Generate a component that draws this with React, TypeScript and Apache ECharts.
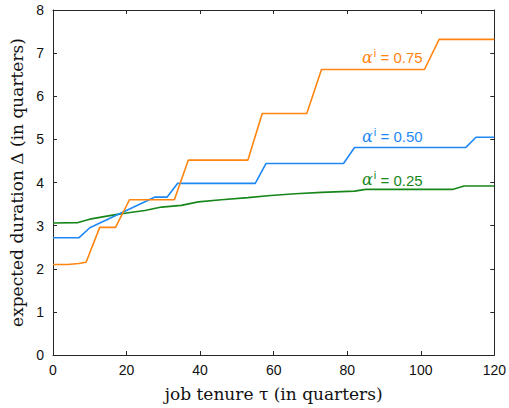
import React, { useEffect, useRef } from "react";
import * as echarts from "echarts";

const xTicks = [0, 20, 40, 60, 80, 100, 120];
const yTicks = [0, 1, 2, 3, 4, 5, 6, 7, 8];

const tauHigh = [0, 4, 7, 9, 12.7, 17, 20.8, 33, 36.8, 53, 56.9, 69, 73, 101, 105, 120];
const durHigh = [2.1, 2.1, 2.12, 2.15, 2.96, 2.96, 3.6, 3.6, 4.52, 4.52, 5.6, 5.6, 6.62, 6.62, 7.32, 7.32];

const tauMid = [0, 7.1, 10, 27.6, 31, 33.9, 55, 57.9, 79, 82, 112.2, 115, 120];
const durMid = [2.72, 2.72, 2.95, 3.66, 3.66, 3.98, 3.98, 4.44, 4.44, 4.81, 4.81, 5.05, 5.05];

const tauLow = [0, 6.8, 10, 16.6, 20.5, 25, 29.5, 34.9, 39.5, 45.8, 53, 59.2, 65.9, 73, 82, 85, 108.6, 111.8, 120];
const durLow = [3.06, 3.07, 3.15, 3.25, 3.3, 3.35, 3.43, 3.47, 3.55, 3.6, 3.65, 3.7, 3.74, 3.77, 3.8, 3.84, 3.84, 3.92, 3.92];

const labelHigh = "0.75";
const labelMid = "0.50";
const labelLow = "0.25";
const labelAt = [[100.5, 6.93], [100.5, 5.09], [100.5, 4.09]];

const COLORS = ["#ff8410", "#1e88f5", "#17871b"];
const AXIS = "#262626";

function pairs(xs: number[], ys: number[]) {
  return xs.map((x, i) => [x, ys[i]]);
}

function makeSeries(name: string, xs: number[], ys: number[], color: string, lab: string, at: number[]) {
  return {
    name,
    type: "line",
    xAxisIndex: 0,
    yAxisIndex: 0,
    data: pairs(xs, ys),
    showSymbol: false,
    symbol: "none",
    lineStyle: { color, width: 1.6 },
    itemStyle: { color },
    markPoint: {
      symbol: "circle",
      symbolSize: 0,
      data: [{ coord: at }],
      label: {
        show: true,
        position: "left",
        distance: 0,
        formatter: "{a|α}{s|i}{t| = " + lab + "}",
        rich: {
          a: { fontFamily: "DejaVu Serif", fontStyle: "italic", fontSize: 16, color, verticalAlign: "bottom", lineHeight: 18 },
          s: { fontFamily: "Liberation Sans", fontSize: 11, color, verticalAlign: "top", lineHeight: 18, padding: [0, 0, 0, 1] },
          t: { fontFamily: "Liberation Sans", fontSize: 15, color, verticalAlign: "bottom", lineHeight: 18 },
        },
      },
    },
  };
}

export default function App() {
  const ref = useRef<HTMLDivElement>(null);
  useEffect(() => {
    if (!ref.current) return;
    const chart = echarts.init(ref.current, null, { renderer: "svg" });
    const tickLabel = { fontFamily: "Liberation Sans", fontSize: 14, color: "#111" };
    const line = { show: true, onZero: false, lineStyle: { color: AXIS, width: 1 } };
    const tick = { show: true, inside: true, length: 4, lineStyle: { color: AXIS } };
    const nameStyle = { fontFamily: "DejaVu Serif", fontSize: 17, color: "#111" };
    chart.setOption({
      animation: false,
      backgroundColor: "#ffffff",
      grid: { left: 53, right: 12, top: 10, bottom: 53, containLabel: false },
      xAxis: [
        {
          type: "value",
          min: 0,
          max: 120,
          interval: 20,
          name: "job tenure τ (in quarters)",
          nameLocation: "middle",
          nameGap: 30,
          nameTextStyle: nameStyle,
          axisLine: line,
          axisTick: tick,
          axisLabel: { ...tickLabel, margin: 8, formatter: (v: number) => (xTicks.includes(v) ? String(v) : "") },
          splitLine: { show: false },
        },
        {
          type: "value",
          position: "top",
          min: 0,
          max: 120,
          interval: 20,
          axisLine: line,
          axisTick: tick,
          axisLabel: { show: false },
          splitLine: { show: false },
        },
      ],
      yAxis: [
        {
          type: "value",
          min: 0,
          max: 8,
          interval: 1,
          name: "expected duration Δ (in quarters)",
          nameLocation: "middle",
          nameGap: 20,
          nameTextStyle: nameStyle,
          axisLine: line,
          axisTick: tick,
          axisLabel: { ...tickLabel, margin: 9, formatter: (v: number) => (yTicks.includes(v) ? String(v) : "") },
          splitLine: { show: false },
        },
        {
          type: "value",
          position: "right",
          min: 0,
          max: 8,
          interval: 1,
          axisLine: line,
          axisTick: tick,
          axisLabel: { show: false },
          splitLine: { show: false },
        },
      ],
      series: [
        makeSeries("α=0.25", tauLow, durLow, COLORS[2], labelLow, labelAt[2]),
        makeSeries("α=0.50", tauMid, durMid, COLORS[1], labelMid, labelAt[1]),
        makeSeries("α=0.75", tauHigh, durHigh, COLORS[0], labelHigh, labelAt[0]),
      ],
    });
    return () => chart.dispose();
  }, []);
  return <div ref={ref} style={{ width: 509, height: 408, position: "absolute", left: 0, top: 0 }} />;
}
